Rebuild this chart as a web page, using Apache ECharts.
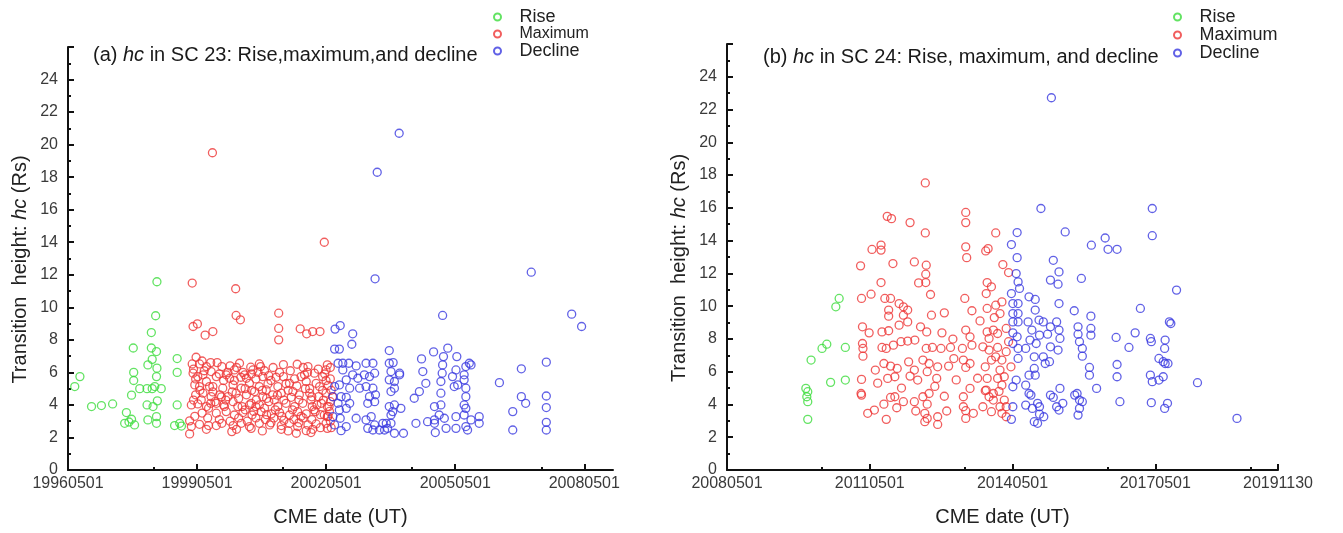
<!DOCTYPE html>
<html><head><meta charset="utf-8">
<script src="https://cdn.jsdelivr.net/npm/echarts@6/dist/echarts.min.js"></script>
<style>html,body{margin:0;padding:0;background:#fff}#c{width:1343px;height:533px}</style>
</head><body><div id="c"></div>
<script>
// ---- Panel (a): SC 23 (x = decimal year, y = hc in Rs) ----
const riseA = [[1996.49,5.13],[1996.61,5.74],[1996.88,3.9],[1997.11,3.96],[1997.37,4.06],[1997.69,3.53],[1997.65,2.87],[1997.75,2.95],[1997.88,2.77],[1997.81,3.12],[1997.81,4.6],[1997.86,6.0],[1997.86,5.5],[1997.85,7.5],[1998.0,5.0],[1998.17,5.0],[1998.17,4.0],[1998.19,3.08],[1998.19,6.46],[1998.27,7.5],[1998.29,6.8],[1998.29,5.0],[1998.31,3.9],[1998.27,8.45],[1998.37,9.48],[1998.40,11.57],[1998.39,7.28],[1998.39,5.74],[1998.40,6.26],[1998.41,4.25],[1998.39,3.28],[1998.39,2.87],[1998.50,5.0],[1998.35,5.13],[1998.87,6.85],[1998.87,6.0],[1998.87,4.0],[1998.81,2.73],[1998.93,2.87],[1998.97,2.7]];
const maxA = [[1999.22,11.49],[2000.23,11.14],[2000.24,9.5],[2000.34,9.23],[1999.24,8.82],[1999.34,8.98],[1999.52,8.29],[1999.70,8.51],[2001.23,9.64],[2001.23,8.7],[2001.23,8.0],[2001.73,8.68],[2001.88,8.37],[2002.02,8.51],[2002.19,8.51],[1999.69,19.5],[2002.29,14.0],
[1999.31,6.93],[1999.22,6.52],[1999.39,6.52],[1999.55,6.36],[1999.91,6.36],[2000.32,6.56],[2000.58,6.32],[2000.78,6.52],[2000.81,6.36],[2001.34,6.48],[2001.66,6.5],[2001.91,6.36],[2002.33,6.15],
[1999.24,5.95],[1999.47,5.85],[1999.66,6.05],[1999.78,5.74],[2000.01,5.85],[2000.20,6.15],[2000.44,5.85],[2000.63,6.15],[2000.86,5.74],[2001.17,5.7],[2001.34,5.74],[2001.83,5.85],[2002.06,5.95],[2002.25,5.74],
[1999.28,5.23],[1999.39,5.13],[1999.55,5.44],[1999.70,5.13],[1999.93,5.03],[2000.17,5.23],[2000.36,5.03],[2000.55,5.33],[2000.78,5.13],[2000.98,5.29],[2001.21,5.13],[2001.48,5.33],[2001.65,5.17],[2001.87,5.44],[2002.10,5.33],[2002.33,5.5],
[1999.30,4.62],[1999.47,4.72],[1999.66,4.51],[1999.86,4.62],[2000.05,4.51],[2000.24,4.72],[2000.48,4.62],[2000.67,4.82],[2000.86,4.51],[2001.09,4.62],[2001.29,4.72],[2001.52,4.47],[2001.71,4.62],[2001.95,4.72],[2002.16,4.51],[2002.33,4.72],
[1999.35,4.06],[1999.55,3.9],[1999.78,4.1],[1999.97,3.9],[2000.17,4.2],[2000.38,3.9],[2000.59,4.1],[2000.78,4.0],[2001.00,4.2],[2001.21,3.9],[2001.40,4.1],[2001.60,3.9],[2001.79,4.1],[2002.01,3.9],[2002.22,4.1],
[1999.78,3.49],[2000.01,3.59],[2000.20,3.38],[2000.40,3.53],[2000.61,3.38],[2000.82,3.59],[2001.06,3.45],[2001.25,3.53],[2001.48,3.38],[2001.67,3.59],[2001.87,3.45],[2002.08,3.59],[2002.29,3.38],
[1999.16,3.02],[1999.20,2.67],[1999.39,2.81],[1999.60,2.73],[1999.78,2.73],[1999.91,2.87],[2000.17,2.73],[2000.36,2.87],[2000.55,2.67],[2000.78,2.87],[2001.02,2.77],[2001.29,2.73],[2001.48,2.87],[2001.67,2.67],[2001.91,2.77],[2002.10,2.83],[2002.33,2.87],
[1999.16,2.22],[2000.14,2.36],[2000.59,2.56],[2001.29,2.5],[2001.64,2.26],[2001.87,2.42],[2002.02,2.5],
[1999.35,5.74],[1999.43,4.31],[1999.62,5.13],[2000.09,5.64],[2000.28,3.9],[2000.48,5.64],[2000.71,4.31],[2000.94,4.92],[2001.13,4.31],[2001.56,4.82],[2001.75,5.74],[2001.98,4.31],[2002.18,5.13],[2002.36,3.9],[2002.36,3.28],[2002.36,2.56],[2002.36,6.46],
[2002.43,6.3],[2002.43,5.6],[2002.45,4.9],[2002.43,4.2],[2002.41,3.6],[2002.43,3.0],[2002.45,2.6],[2002.38,5.2],[2002.38,3.3],[2002.48,4.5],
[1999.28,3.3],[1999.45,3.5],[1999.58,3.2],[1999.85,3.1],[2000.10,3.0],[2000.30,3.2],[2000.50,3.0],[2000.70,3.2],[2000.92,3.1],[2001.12,3.2],[2001.35,3.05],[2001.58,3.1],[2001.80,3.2],[2002.0,3.1],[2002.2,2.6],
[1999.5,6.1],[1999.8,6.6],[2000.1,6.4],[2000.4,6.0],[2000.7,5.6],[2000.9,6.1],[2001.1,6.3],[2001.5,6.1],[2001.9,6.0],[2002.15,6.2],
[1999.4,4.9],[1999.7,4.8],[2000.0,4.3],[2000.3,4.4],[2000.6,4.9],[2000.95,4.4],[2001.2,4.6],[2001.45,4.9],[2001.7,4.3],[2001.95,5.0],[2002.25,4.9],
[1999.25,4.3],[1999.3,5.6],[1999.6,3.8],[1999.9,4.5],[2000.2,5.5],[2000.45,3.7],[2000.65,3.6],[2000.9,3.8],[2001.05,5.5],[2001.3,3.3],[2001.55,3.7],[2001.75,3.3],[2002.05,3.7],[2002.27,4.3],
[1999.2,4.0],[1999.25,6.2],[1999.45,6.7],[1999.65,6.6],[1999.75,4.2],[1999.95,5.5],[2000.05,6.0],[2000.15,4.8],[2000.35,5.7],[2000.55,4.0],[2000.75,6.0],[2000.85,4.9],[2001.0,5.8],[2001.15,3.7],[2001.25,6.0],[2001.4,5.3],[2001.6,5.6],[2001.7,2.9],[2001.85,5.0],[2002.0,4.5],
[2002.12,4.0],[2002.3,5.9],[2000.25,2.5],[2000.85,2.4],[2001.45,2.4],[2001.98,2.3],[1999.55,2.5],[2002.2,3.4],[2000.7,3.9],[2000.45,5.0],[1999.85,5.9],[2001.35,4.3],[2001.8,6.3],[2002.4,3.9],[2000.95,3.4],[1999.65,4.1],[2000.6,5.9],[2001.05,2.9],[1999.95,4.0],[2000.25,6.3]];
const declA = [[2003.47,11.75],[2007.10,12.16],[2008.04,9.58],[2008.27,8.82],[2005.04,9.5],[2003.52,18.3],[2004.03,20.7],[2002.54,8.66],[2002.66,8.88],[2002.95,8.37],[2002.93,7.73],[2002.53,7.43],[2002.64,7.43],[2003.80,7.34],[2004.55,6.83],[2004.83,7.26],[2005.16,7.49],[2005.06,6.97],[2005.37,6.97],[2006.36,5.37],[2006.87,6.22],[2007.45,6.63],[2007.45,4.55],[2007.45,3.84],[2007.45,2.93],[2007.45,2.46],[2006.87,4.51],[2006.97,4.1],[2006.67,3.59],[2006.67,2.46],
[2002.61,6.56],[2002.72,6.56],[2002.86,6.56],[2003.03,6.4],[2002.72,6.15],[2002.95,5.85],[2002.80,5.54],[2003.07,5.64],[2002.53,5.13],[2002.64,5.23],[2002.88,5.03],[2003.11,5.03],[2002.49,4.51],[2002.68,4.51],[2002.80,4.47],[2002.61,4.1],[2002.88,4.1],[2002.64,3.69],[2002.80,3.79],[2002.49,3.28],[2002.66,3.18],[2003.03,3.18],[2002.53,2.77],[2002.80,2.67],[2002.68,2.42],[2003.26,6.56],[2003.42,6.56],[2003.22,5.85],[2003.34,5.74],[2003.46,5.95],[2003.26,5.13],[2003.42,5.03],[2003.34,4.51],[2003.48,4.62],[2003.30,4.1],[2003.46,4.2],[2003.38,3.28],[2003.26,3.08],[2003.46,2.77],[2003.30,2.56],[2003.42,2.46],[2003.57,2.46],[2003.65,2.87],
[2003.80,6.56],[2003.89,6.6],[2004.04,5.95],[2003.84,6.05],[2003.92,5.44],[2004.04,5.85],[2003.80,5.54],[2003.84,4.82],[2003.92,5.03],[2003.80,3.9],[2003.92,4.0],[2004.07,3.79],[2003.84,3.38],[2003.88,3.59],[2003.73,2.87],[2003.84,2.87],[2003.76,2.56],[2003.92,2.26],[2004.13,2.26],[2003.69,2.46],
[2004.42,2.87],[2004.38,4.41],[2004.50,4.82],[2004.65,5.33],[2004.58,6.05],
[2004.85,3.9],[2005.00,4.0],[2005.00,4.72],[2005.00,5.44],[2005.03,5.95],[2005.04,6.46],[2004.69,2.97],[2004.85,2.87],[2005.08,3.18],[2004.87,2.3],[2005.12,2.56],[2004.96,3.38],[2004.85,3.08],
[2005.27,5.74],[2005.35,6.15],[2005.31,5.13],[2005.39,5.23],[2005.58,5.03],[2005.54,5.85],[2005.66,6.56],[2005.70,6.46],[2005.58,6.36],[2005.58,4.51],[2005.54,4.0],[2005.58,3.79],[2005.54,3.38],[2005.35,3.28],[2005.35,2.56],[2005.58,2.67],[2005.62,2.46],[2005.70,3.08],[2005.89,3.28],[2005.89,2.87],[2005.54,5.54]];

// ---- Panel (b): SC 24 ----
const riseB = [[2009.99,4.98],[2010.03,4.78],[2010.01,4.47],[2010.03,4.17],[2010.03,3.09],[2010.10,6.71],[2010.33,7.42],[2010.43,7.68],[2010.51,5.35],[2010.62,9.96],[2010.69,10.47],[2010.82,7.48],[2010.82,5.49]];
const maxB = [[2012.50,17.52],[2011.70,15.48],[2011.79,15.34],[2012.18,15.1],[2012.50,14.47],[2013.35,15.72],[2013.35,15.1],[2011.38,13.46],[2011.57,13.73],[2011.57,13.42],[2011.82,12.6],[2012.27,12.7],[2012.52,12.5],[2011.14,12.46],[2013.35,13.62],[2013.37,12.96],[2013.77,13.37],[2013.82,13.51],[2013.98,14.47],[2014.13,12.54],
[2012.51,11.95],[2012.51,11.44],[2012.36,11.42],[2011.57,11.44],[2014.25,12.05],
[2011.36,10.73],[2011.16,10.47],[2011.65,10.47],[2011.77,10.47],[2011.95,10.16],[2012.04,9.96],[2012.13,9.76],[2012.04,9.45],[2011.73,9.76],[2011.73,9.39],[2011.95,8.84],[2012.13,9.04],[2012.63,9.45],[2012.61,10.71],[2012.90,9.59],[2013.33,10.47],[2013.48,9.72],[2013.80,11.44],[2013.89,11.18],[2013.78,10.77],[2013.80,9.86],[2013.98,10.06],[2014.11,10.26],[2014.07,9.55],
[2011.18,8.74],[2011.32,8.37],[2011.59,8.43],[2011.73,8.5],[2012.40,8.74],[2012.53,8.43],[2012.85,8.37],[2013.08,7.99],[2013.35,8.54],[2013.44,8.13],[2013.80,8.43],[2013.93,8.54],[2014.02,8.33],[2014.20,8.64],[2014.25,7.83],
[2011.18,7.72],[2011.19,7.42],[2011.19,6.95],[2011.59,7.48],[2011.68,7.42],[2011.83,7.62],[2011.99,7.83],[2012.13,7.87],[2012.28,7.93],[2012.52,7.42],[2012.65,7.48],[2012.83,7.42],[2013.03,7.48],[2013.28,7.42],[2013.48,7.62],[2013.71,7.52],[2013.84,7.32],[2014.02,7.48],[2014.20,7.22],
[2011.63,6.5],[2011.77,6.34],[2011.91,6.2],[2012.27,6.1],[2012.45,6.71],[2012.58,6.5],[2012.76,6.3],[2012.99,6.34],[2013.30,6.71],[2013.35,6.26],[2013.44,6.5],[2013.76,6.3],[2013.89,6.71],[2014.07,6.1],[2014.30,6.3],
[2011.16,5.53],[2011.71,5.59],[2011.86,5.69],[2012.18,5.73],[2012.34,5.49],[2012.54,6.0],[2012.74,5.59],[2013.44,4.98],[2013.80,5.59],[2014.02,5.59],[2014.11,5.18],[2013.78,4.88],
[2011.15,4.67],[2011.16,4.57],[2011.63,4.02],[2011.77,4.43],[2011.86,4.47],[2012.04,4.17],[2012.27,4.17],[2012.45,4.47],[2012.58,4.67],[2012.54,4.02],[2013.30,4.47],[2013.76,4.84],[2013.84,4.47],[2013.93,4.27],[2014.16,4.27],[2014.20,3.86],
[2011.29,3.46],[2011.43,3.66],[2011.68,3.09],[2012.49,3.46],[2012.54,3.15],[2012.76,3.25],[2012.76,2.78],[2012.49,2.95],[2013.30,3.86],[2013.35,3.62],[2013.35,3.15],[2013.51,3.46],[2013.71,3.86],[2013.89,3.56],[2014.07,3.86],[2014.11,3.46],[2014.20,3.25],
[2013.84,8.03],[2013.98,6.91],[2014.16,5.69],[2013.93,4.67],[2014.11,6.71],
[2012.9,4.5],[2012.95,3.6],[2013.1,6.8],[2013.15,5.5],[2012.0,5.0],[2011.5,5.3],[2011.45,6.1],[2011.9,3.8],[2012.3,3.6],[2012.7,5.1],[2013.6,5.6],[2013.65,9.1],[2013.95,9.3],[2014.05,4.8],[2012.15,6.6]];
const declB = [[2015.15,22.72],[2014.93,15.96],[2017.27,15.96],[2017.27,14.3],[2014.43,14.49],[2015.44,14.53],[2014.31,13.76],[2014.43,12.96],[2015.19,12.8],[2015.99,13.72],[2016.28,14.16],[2016.34,13.47],[2016.53,13.47],
[2014.41,11.99],[2014.45,11.48],[2014.48,11.08],[2014.31,10.77],[2014.34,10.16],[2014.45,10.16],[2014.34,9.55],[2014.45,9.55],[2014.34,9.04],[2014.45,9.04],[2014.34,8.37],[2014.43,8.13],[2014.34,7.72],[2014.45,7.42],[2014.45,6.81],[2014.34,5.08],[2014.41,5.49],[2014.31,3.09],[2014.34,3.86],
[2015.13,11.59],[2015.29,11.34],[2015.31,12.09],[2015.78,11.69],[2015.31,10.16],[2014.68,10.57],[2014.81,10.41],[2014.81,9.76],[2014.66,9.04],[2014.89,9.15],[2014.98,9.04],[2014.74,8.54],[2014.90,8.23],[2015.07,8.29],[2015.13,8.74],[2015.26,9.04],[2015.31,8.54],[2015.33,8.03],[2015.13,7.52],[2015.29,7.32],[2014.61,7.42],[2014.70,7.93],[2014.83,7.72],[2014.79,6.91],[2014.79,6.2],[2014.81,5.79],[2014.68,5.79],[2014.98,6.91],[2015.02,6.5],[2015.11,6.61],
[2015.63,9.72],[2015.98,9.39],[2015.71,8.74],[2015.71,8.29],[2015.98,8.64],[2015.98,8.23],[2015.74,7.83],[2015.80,7.42],[2015.80,6.95],[2015.95,6.26],[2015.95,5.79],[2016.10,4.98],
[2016.51,8.09],[2016.78,7.48],[2016.91,8.37],[2017.02,9.86],[2016.53,6.44],[2016.53,5.69],[2016.59,4.17],
[2017.23,8.03],[2017.25,7.83],[2017.41,6.81],[2017.50,6.61],[2017.23,5.79],[2017.27,5.39],[2017.41,5.49],[2017.50,5.69],[2017.54,6.5],[2017.60,6.5],[2017.54,7.93],[2017.53,7.42],[2017.66,8.94],[2017.63,9.04],[2017.78,10.98],[2017.25,4.11],[2017.59,4.07],[2017.53,3.76],[2018.22,5.33],[2019.05,3.15],
[2015.64,4.57],[2015.74,4.27],[2015.80,4.17],[2015.71,3.35],[2015.74,3.76],[2015.69,4.67],
[2014.61,3.96],[2014.72,4.57],[2014.75,3.76],[2014.86,4.07],[2014.90,3.86],[2014.90,3.41],[2014.79,2.95],[2014.86,2.85],[2014.99,3.25],[2015.13,4.57],[2015.19,4.43],[2015.26,3.86],[2015.31,3.66],[2015.33,4.98],[2015.39,4.07],[2014.61,5.18],[2014.68,4.67]];

// ---- Axis ticks and labels ----
const majorTicksA = [1996.333, 1999.333, 2002.333, 2005.333, 2008.333];
const minorTicksA = [1998.333, 2001.333, 2004.333, 2007.333];
const tickLabelsA = ['19960501', '19990501', '20020501', '20050501', '20080501'];
const majorTicksB = [2008.333, 2011.333, 2014.333, 2017.333, 2019.912];
const minorTicksB = [2010.333, 2013.333, 2016.333, 2019.333];
const tickLabelsB = ['20080501', '20110501', '20140501', '20170501', '20191130'];
const rangeA = [1996.333, 2009.0];
const rangeB = [2008.333, 2019.912];
const seriesNames = ['Rise', 'Maximum', 'Decline'];
const colors = ['#3cdc3c', '#ee3636', '#3a3ae0'];

const FONT = 'Liberation Sans, Arial, sans-serif';
const gridsPx = [
  {left: 68, top: 47, width: 545, height: 423},
  {left: 727, top: 44, width: 551, height: 426}
];

function labelFor(ticks, labels) {
  return v => {
    for (let i = 0; i < ticks.length; i++) if (Math.abs(ticks[i] - v) < 1e-3) return labels[i];
    return '';
  };
}
function mainX(gi, range, ticks, labels) {
  return {
    type: 'value', gridIndex: gi, min: range[0], max: range[1], position: 'bottom',
    name: 'CME date (UT)', nameLocation: 'middle', nameGap: 37,
    nameTextStyle: {fontSize: 20, color: '#222', fontFamily: FONT},
    axisLine: {show: true, onZero: false, lineStyle: {color: '#111', width: 2}},
    axisTick: {show: true, inside: true, length: 6, customValues: ticks, lineStyle: {color: '#111', width: 2}},
    axisLabel: {show: true, customValues: ticks, formatter: labelFor(ticks, labels), fontSize: 16, color: '#3a3a3a', margin: 6, fontFamily: FONT},
    splitLine: {show: false}
  };
}
function helperX(gi, range, ticks, h) {
  return {
    type: 'value', gridIndex: gi, min: range[0], max: range[1], position: 'top', offset: -h,
    axisLine: {show: false},
    axisTick: {show: true, inside: false, length: 3, customValues: ticks, lineStyle: {color: '#111', width: 2}},
    axisLabel: {show: false},
    splitLine: {show: false}
  };
}
function mainY(gi) {
  return {
    type: 'value', gridIndex: gi, min: 0, max: 26, interval: 2,
    name: '{n|Transition  height: }{i|hc}{n| (Rs)}', nameLocation: 'middle', nameGap: 38,
    nameTextStyle: {padding: [0, 22, 0, 0], rich: {
      n: {fontSize: 20, color: '#222', fontFamily: FONT},
      i: {fontSize: 20, color: '#222', fontStyle: 'italic', fontFamily: FONT}}},
    axisLine: {show: true, onZero: false, lineStyle: {color: '#111', width: 2}},
    axisTick: {show: true, inside: true, length: 6, lineStyle: {color: '#111', width: 2}},
    minorTick: {show: true, splitNumber: 2, length: 3, lineStyle: {color: '#111', width: 2}},
    axisLabel: {fontSize: 16, color: '#3a3a3a', margin: 10, fontFamily: FONT, formatter: v => (v >= 26 ? '' : String(v))},
    splitLine: {show: false}, minorSplitLine: {show: false}
  };
}
function scatter(name, data, idx, xi, yi) {
  return {
    type: 'scatter', name: name, data: data, xAxisIndex: xi, yAxisIndex: yi,
    symbol: 'circle', symbolSize: 8,
    itemStyle: {color: 'rgba(255,255,255,0)', borderColor: colors[idx], borderWidth: 1.3},
    emphasis: {disabled: true}
  };
}
function titleText(panel, sc, rest) {
  return '{n|' + panel + ' }{i|hc}{n| in SC ' + sc + ': ' + rest + '}';
}
const titleRich = {
  n: {fontSize: 20, color: '#1a1a1a', fontFamily: FONT, fontWeight: 'normal', lineHeight: 22},
  i: {fontSize: 20, color: '#1a1a1a', fontStyle: 'italic', fontWeight: 'normal', fontFamily: FONT, lineHeight: 22}
};
function legend(left, maxSize) {
  return {
    orient: 'vertical', left: left, top: 8, itemWidth: 34, itemHeight: 7, itemGap: 0, padding: 0,
    data: seriesNames, selectedMode: false,
    formatter: n => (n === 'Maximum' ? '{m|' + n + '}' : '{r|' + n + '}'),
    textStyle: {color: '#222', fontFamily: FONT, rich: {
      r: {fontSize: 18, lineHeight: 19, fontFamily: FONT, color: '#222'},
      m: {fontSize: maxSize, lineHeight: 19, fontFamily: FONT, color: '#222'}}}
  };
}

const chart = echarts.init(document.getElementById('c'), null, {renderer: 'canvas'});
chart.setOption({
  animation: false,
  backgroundColor: '#ffffff',
  textStyle: {fontFamily: FONT},
  title: [
    {text: titleText('(a)', '23', 'Rise,maximum,and decline'), left: 93, top: 44, padding: 0, textStyle: {fontWeight: 'normal', rich: titleRich}},
    {text: titleText('(b)', '24', 'Rise, maximum, and decline'), left: 763, top: 46, padding: 0, textStyle: {fontWeight: 'normal', rich: titleRich}}
  ],
  legend: [legend(493, 16), legend(1173, 18)],
  grid: gridsPx.map(g => Object.assign({containLabel: false}, g)),
  xAxis: [
    mainX(0, rangeA, majorTicksA, tickLabelsA),
    helperX(0, rangeA, minorTicksA, gridsPx[0].height),
    mainX(1, rangeB, majorTicksB, tickLabelsB),
    helperX(1, rangeB, minorTicksB, gridsPx[1].height)
  ],
  yAxis: [mainY(0), mainY(1)],
  series: [
    scatter(seriesNames[0], riseA, 0, 0, 0),
    scatter(seriesNames[1], maxA, 1, 0, 0),
    scatter(seriesNames[2], declA, 2, 0, 0),
    scatter(seriesNames[0], riseB, 0, 2, 1),
    scatter(seriesNames[1], maxB, 1, 2, 1),
    scatter(seriesNames[2], declB, 2, 2, 1)
  ]
});
</script>
</body></html>
